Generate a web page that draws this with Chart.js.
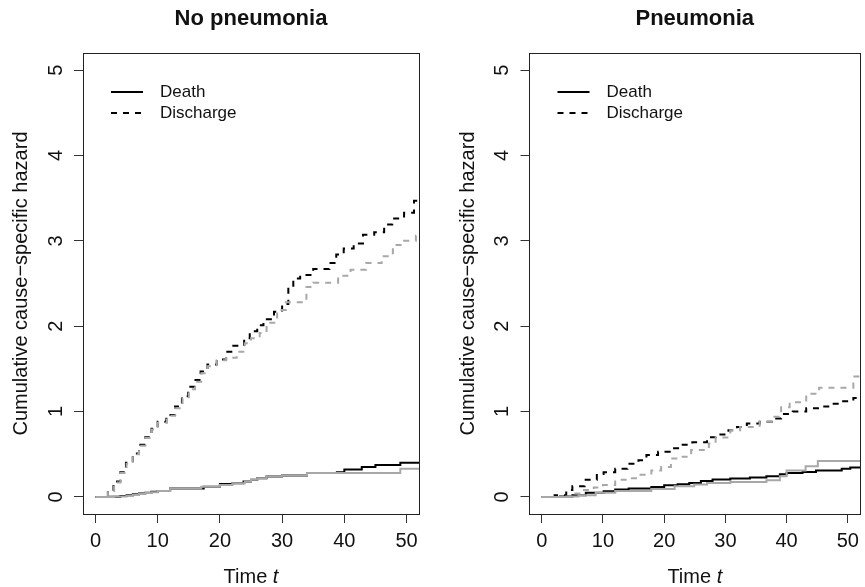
<!DOCTYPE html>
<html><head><meta charset="utf-8">
<script src="https://cdn.jsdelivr.net/npm/chart.js@4.4.1/dist/chart.umd.min.js"></script>
<style>
html,body{margin:0;padding:0;background:#fff;}
#wrap{position:relative;width:865px;height:587px;overflow:hidden;background:#fff;}
.panel{position:absolute;top:0;height:587px;}
#p1{left:0;width:440px;}
#p2{left:440px;width:425px;}
</style></head><body>
<div id="wrap">
<div class="panel" id="p1"><canvas id="c1" width="440" height="587"></canvas></div>
<div class="panel" id="p2"><canvas id="c2" width="425" height="587"></canvas></div>
</div>
<script>
// ---- Data ----
const panelTitles = ["No pneumonia", "Pneumonia"];
const legendLabels = ["Death", "Discharge"];
const xTicks = [0, 10, 20, 30, 40, 50];
const yTicks = [0, 1, 2, 3, 4, 5];
const xRange = [-2, 52];
const yRange = [-0.2, 5.2];
const yTitle = "Cumulative cause\u2212specific hazard";
const xTitleMain = "Time ";
const xTitleItalic = "t";

// No pneumonia: death (black solid)
const noPnDeathBlackT = [0, 2, 4, 5, 6, 7, 8, 9, 10, 12, 17.4, 20, 22, 23.8, 25, 26, 27.5, 30, 34, 38.8, 40, 42.8, 45, 49];
const noPnDeathBlackV = [0, 0.003, 0.01, 0.02, 0.03, 0.04, 0.05, 0.06, 0.07, 0.10, 0.12, 0.15, 0.16, 0.18, 0.20, 0.22, 0.24, 0.25, 0.28, 0.29, 0.32, 0.35, 0.375, 0.40];
// No pneumonia: death (grey solid)
const noPnDeathGreyT = [0, 3, 5, 6, 7, 8, 9, 10, 12, 17, 20, 22, 24, 25, 26, 27.5, 30, 34, 49];
const noPnDeathGreyV = [0, 0.005, 0.015, 0.025, 0.035, 0.045, 0.055, 0.07, 0.10, 0.12, 0.14, 0.16, 0.18, 0.20, 0.22, 0.24, 0.25, 0.28, 0.33];
// No pneumonia: discharge (black dashed)
const noPnDischBlackT = [0, 2, 2.9, 4, 4.9, 6, 7, 8, 9, 10, 11.4, 12.8, 13.9, 14.9, 15.9, 16.9, 18, 19.5, 21, 22, 23.9, 24.8, 26, 27, 28.7, 30, 31, 31.8, 32.9, 35, 37.6, 38.7, 39.9, 41.5, 43, 44.8, 46.4, 47.7, 49.6, 51.2];
const noPnDischBlackV = [0, 0.08, 0.18, 0.29, 0.40, 0.51, 0.61, 0.70, 0.80, 0.88, 0.96, 1.06, 1.18, 1.29, 1.37, 1.47, 1.55, 1.61, 1.70, 1.77, 1.86, 1.94, 2.01, 2.08, 2.17, 2.26, 2.46, 2.56, 2.60, 2.67, 2.74, 2.84, 2.91, 2.97, 3.07, 3.10, 3.19, 3.26, 3.33, 3.47];
// No pneumonia: discharge (grey dashed)
const noPnDischGreyT = [0, 2, 3, 4, 5, 6, 7, 8, 9, 10, 11.5, 12.8, 14, 15, 16, 17, 18, 19.5, 21, 22.7, 24, 25, 26.4, 27.5, 29.2, 30.6, 33.9, 35, 39, 41, 43.5, 46, 47.8, 49.6, 51.5];
const noPnDischGreyV = [0, 0.07, 0.17, 0.28, 0.39, 0.50, 0.60, 0.69, 0.79, 0.87, 0.95, 1.04, 1.15, 1.26, 1.35, 1.45, 1.53, 1.60, 1.63, 1.70, 1.80, 1.86, 1.92, 2.04, 2.19, 2.28, 2.46, 2.51, 2.59, 2.66, 2.74, 2.82, 2.95, 3.00, 3.06];

// Pneumonia: death (black solid)
const pnDeathBlackT = [0, 3, 5, 7.2, 10.1, 12, 14.2, 17.9, 20, 22.2, 24.1, 26, 27.9, 30.8, 34, 36.7, 38.9, 40, 42.6, 44.8, 49, 50.4];
const pnDeathBlackV = [0, 0.005, 0.02, 0.05, 0.066, 0.086, 0.098, 0.117, 0.137, 0.148, 0.164, 0.188, 0.203, 0.215, 0.227, 0.242, 0.266, 0.28, 0.293, 0.31, 0.33, 0.344];
// Pneumonia: death (grey solid)
const pnDeathGreyT = [0, 4, 6, 8.8, 12, 17.9, 21.7, 24.9, 27, 30.8, 36.7, 38.9, 40, 43.1, 45.1];
const pnDeathGreyV = [0, 0.005, 0.02, 0.05, 0.07, 0.094, 0.125, 0.145, 0.164, 0.176, 0.195, 0.242, 0.31, 0.36, 0.42];
// Pneumonia: discharge (black dashed)
const pnDischBlackT = [0, 2.1, 4, 5, 7, 9, 10.1, 12, 14, 15.8, 17.1, 19, 20.9, 22.8, 24.6, 27, 28.4, 30.5, 31.9, 33.5, 35.6, 37.8, 39.1, 41, 43.2, 45.3, 47.2, 49, 50.9];
const pnDischBlackV = [0, 0.02, 0.08, 0.125, 0.2, 0.27, 0.29, 0.33, 0.39, 0.43, 0.49, 0.53, 0.57, 0.61, 0.64, 0.70, 0.73, 0.78, 0.82, 0.86, 0.88, 0.92, 0.97, 1.0, 1.04, 1.06, 1.09, 1.12, 1.16];
// Pneumonia: discharge (grey dashed)
const pnDischGreyT = [0, 5, 6.6, 8.5, 10, 12, 14, 15.8, 17.9, 19.5, 21.1, 22.5, 24.4, 27.3, 28.4, 30.8, 32.4, 35.6, 38, 39.1, 40.5, 43.2, 45.3, 50.9];
const pnDischGreyV = [0, 0.04, 0.08, 0.11, 0.14, 0.20, 0.22, 0.26, 0.31, 0.35, 0.45, 0.47, 0.55, 0.625, 0.695, 0.78, 0.82, 0.88, 0.94, 1.05, 1.11, 1.21, 1.28, 1.41];

// ---- Styling ----
const FONT = "'Liberation Sans', Arial, Helvetica, sans-serif";
const TEXT = '#111';
const GREY = '#a8a8a8';
const BLACK = '#000';
const DASH = [6, 6];
Chart.defaults.font.family = FONT;

function toPts(T, V) {
  const pts = T.map((t, i) => ({x: t, y: V[i]}));
  pts.push({x: xRange[1], y: V[V.length - 1]});
  return pts;
}
function ds(T, V, color, dashed) {
  return {
    data: toPts(T, V), borderColor: color, borderWidth: 2,
    borderDash: dashed ? DASH : [], stepped: 'before', pointRadius: 0,
    fill: false, tension: 0, borderCapStyle: 'butt', borderJoinStyle: 'miter'
  };
}

const decor = {
  id: 'decor',
  afterDraw(chart, args, opts) {
    const ctx = chart.ctx, a = chart.chartArea;
    const ys = chart.scales.y;
    ctx.save();
    // box
    ctx.strokeStyle = '#222'; ctx.lineWidth = 1; ctx.setLineDash([]);
    const L = Math.floor(a.left) + 0.5, R = Math.floor(a.right) + 0.5;
    const T = Math.floor(a.top) + 0.5, B = Math.floor(a.bottom) + 0.5;
    ctx.strokeRect(L, T, R - L, B - T);
    // y tick labels (rotated, as in R)
    ctx.fillStyle = TEXT;
    ctx.font = '20px ' + FONT;
    ctx.textAlign = 'center'; ctx.textBaseline = 'middle';
    yTicks.forEach(v => {
      const y = ys.getPixelForValue(v);
      ctx.save(); ctx.translate(a.left - 27, y); ctx.rotate(-Math.PI / 2);
      ctx.fillText(String(v), 0, 0); ctx.restore();
    });
    // y title
    ctx.save(); ctx.translate(opts.yTitleX, (a.top + a.bottom) / 2); ctx.rotate(-Math.PI / 2);
    ctx.font = '20px ' + FONT; ctx.fillText(yTitle, 0, 0); ctx.restore();
    // x title with italic t
    const cx = (a.left + a.right) / 2;
    ctx.font = '20px ' + FONT; const w1 = ctx.measureText(xTitleMain).width;
    ctx.font = 'italic 20px ' + FONT; const w2 = ctx.measureText(xTitleItalic).width;
    let x0 = cx - (w1 + w2) / 2;
    ctx.textAlign = 'left';
    ctx.font = '20px ' + FONT; ctx.fillText(xTitleMain, x0, 577);
    ctx.font = 'italic 20px ' + FONT; ctx.fillText(xTitleItalic, x0 + w1, 577);
    // panel title
    ctx.textAlign = 'center';
    ctx.font = 'bold 22px ' + FONT;
    ctx.fillText(opts.title, cx, 19);
    // legend
    ctx.font = '17px ' + FONT; ctx.textAlign = 'left';
    const rows = [a.top + 39, a.top + 60];
    rows.forEach((y, i) => {
      ctx.beginPath(); ctx.strokeStyle = BLACK; ctx.lineWidth = 2;
      ctx.setLineDash(i === 0 ? [] : DASH);
      ctx.moveTo(a.left + 28, y); ctx.lineTo(a.left + 60, y); ctx.stroke();
      ctx.setLineDash([]);
      ctx.fillText(legendLabels[i], a.left + 77, y);
    });
    ctx.restore();
  }
};

function makeChart(id, sets, title, areaLeft, padRight, yTitleX) {
  return new Chart(document.getElementById(id), {
    type: 'line',
    data: {datasets: sets},
    plugins: [decor],
    options: {
      responsive: false, animation: false, devicePixelRatio: 1,
      layout: {padding: {top: 53, right: padRight, left: 0, bottom: 0}},
      plugins: {legend: {display: false}, tooltip: {enabled: false},
        decor: {title: title, yTitleX: yTitleX}},
      scales: {
        x: {
          type: 'linear', min: xRange[0], max: xRange[1],
          afterBuildTicks: s => { s.ticks = xTicks.map(v => ({value: v})); },
          afterFit: s => { s.height = 73; },
          grid: {drawOnChartArea: false, drawTicks: true, tickLength: 9, color: '#333', lineWidth: 1},
          border: {display: false},
          ticks: {font: {size: 20, family: FONT}, color: TEXT, padding: 6, maxRotation: 0, minRotation: 0,
            callback: v => String(v)}
        },
        y: {
          type: 'linear', min: yRange[0], max: yRange[1],
          afterBuildTicks: s => { s.ticks = yTicks.map(v => ({value: v})); },
          afterFit: s => { s.width = areaLeft; },
          grid: {drawOnChartArea: false, drawTicks: true, tickLength: 9, color: '#333', lineWidth: 1},
          border: {display: false},
          ticks: {display: false}
        }
      }
    }
  });
}

makeChart('c1', [
  ds(noPnDeathGreyT, noPnDeathGreyV, GREY, false),
  ds(noPnDischGreyT, noPnDischGreyV, GREY, true),
  ds(noPnDeathBlackT, noPnDeathBlackV, BLACK, false),
  ds(noPnDischBlackT, noPnDischBlackV, BLACK, true)
], panelTitles[0], 83, 21, 21);

makeChart('c2', [
  ds(pnDeathGreyT, pnDeathGreyV, GREY, false),
  ds(pnDischGreyT, pnDischGreyV, GREY, true),
  ds(pnDeathBlackT, pnDeathBlackV, BLACK, false),
  ds(pnDischBlackT, pnDischBlackV, BLACK, true)
], panelTitles[1], 89.5, 1, 28);
</script>
</body></html>
